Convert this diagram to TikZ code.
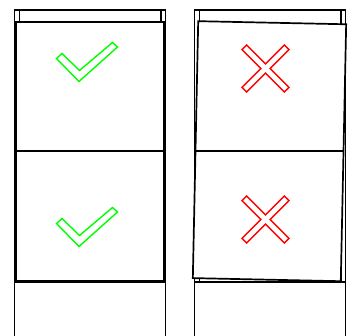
\documentclass[tikz,border=0pt]{standalone}
\begin{document}
\begin{tikzpicture}[x=1pt,y=-1pt,
  frameline/.style={line width=1.2pt, black},
  railline/.style={line width=1.2pt, black},
  panelbox/.style={line width=1.7pt, black, fill=white},
  divider/.style={line width=1.3pt, black},
  sill/.style={line width=2.4pt, black},
  okmark/.style={draw=green, line width=1.4pt, line join=miter},
  badmark/.style={draw=red, line width=1.4pt, line join=miter}]
\useasboundingbox (0,0) rectangle (354,336);
\clip (0,0) rectangle (354,336);
% ---------- left: straight panel ----------
\draw[frameline] (14.8,345) -- (14.8,10) -- (165.5,10) -- (165.5,345);
\draw[railline] (19.5,10) -- (19.5,282) (161,10) -- (161,282);
\draw[panelbox] (16,22) rectangle (164,281);
\draw[divider] (16,151) -- (164,151);
\draw[sill] (14.8,281.5) -- (165.5,281.5);
\foreach \dy in {0,165}{
  \draw[okmark] ([yshift=-\dy pt]62,53.5) -- ([yshift=-\dy pt]79.5,70.5) -- ([yshift=-\dy pt]112.5,42.5)
     -- ([yshift=-\dy pt]117.5,47) -- ([yshift=-\dy pt]79,81.5) -- ([yshift=-\dy pt]56.5,58.5) -- cycle;
}
% ---------- right: tilted panel ----------
\draw[frameline] (194.3,345) -- (194.3,10) -- (345.5,10) -- (345.5,345);
\draw[railline] (199.5,10) -- (199.5,282) (341,10) -- (341,282);
\begin{scope}[shift={(269.5,151.2)}, rotate=-1.2]
  \draw[panelbox] (-74,-128.5) rectangle (74,128.5);
\end{scope}
\draw[divider] (195.6,151) -- (343.6,151);
\draw[sill] (194.3,282) -- (345.5,282);
\foreach \cy in {68.5,219.5}{
  \begin{scope}[shift={(265.5,\cy)}, rotate=45]
    \draw[badmark] (3.3,3.3) -- (30,3.3) -- (30,-3.3) -- (3.3,-3.3) -- (3.3,-30) -- (-3.3,-30)
      -- (-3.3,-3.3) -- (-30,-3.3) -- (-30,3.3) -- (-3.3,3.3) -- (-3.3,30) -- (3.3,30) -- cycle;
  \end{scope}
}
\end{tikzpicture}
\end{document}
